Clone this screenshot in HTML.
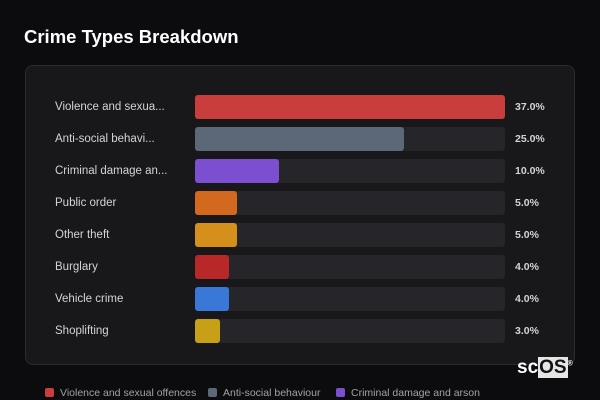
<!DOCTYPE html>
<html><head><meta charset="utf-8"><style>
body{margin:0;width:600px;height:400px;background:#0c0c0f;font-family:"Liberation Sans","DejaVu Sans",sans-serif;overflow:hidden;position:relative}
#title{position:absolute;left:24px;top:26px;color:#fff;font-size:18.5px;font-weight:bold}
#card{position:absolute;left:25px;top:65px;width:550px;height:300px;background:#18181b;border:1px solid #2a2a2f;border-radius:8px;box-sizing:border-box}
.lbl{position:absolute;left:55px;color:#d4d4d8;font-size:11.5px;line-height:14px}
.track{position:absolute;left:195px;width:310px;height:24px;background:#26262a;border-radius:3px}
.bar{position:absolute;left:195px;height:24px;border-radius:3px}
.val{position:absolute;left:515px;color:#d4d4d8;font-size:10.5px;font-weight:bold;line-height:14px}
.leg{position:absolute;top:387px;font-size:10.5px;color:#a1a1aa;line-height:12px;white-space:nowrap}
.leg i{display:inline-block;width:9px;height:9px;border-radius:2px;margin-right:6px;vertical-align:-1px}
#logo{position:absolute;left:517px;top:357px;color:#fff;font-size:19px;font-weight:bold}
</style></head><body>
<div id="title">Crime Types Breakdown</div>
<div id="card"></div>
<div id="chart"></div>
<div id="logo">sc<span style="background:#e5e5e5;color:#111;padding:0 1px">OS</span><sup style="font-size:7px">®</sup></div>
<script>
const categories=["Violence and sexual offences","Anti-social behaviour","Criminal damage and arson","Public order","Other theft","Burglary","Vehicle crime","Shoplifting"];
const shortLabels=["Violence and sexua...","Anti-social behavi...","Criminal damage an...","Public order","Other theft","Burglary","Vehicle crime","Shoplifting"];
const values=[37,25,10,5,5,4,4,3];
const colors=["#c93d3d","#5c6878","#7b4fd0","#d2691e","#d4901a","#b82828","#3a78d8","#c8a018"];
const maxV=Math.max(...values);
const x=v=>v/maxV*310;
const y=i=>95+i*32;
const c=document.getElementById('chart');
values.forEach((v,i)=>{
 const l=document.createElement('div');l.className='lbl';l.style.top=(y(i)+5)+'px';l.textContent=shortLabels[i];
 
 c.appendChild(l);
 const t=document.createElement('div');t.className='track';t.style.top=y(i)+'px';
 
 c.appendChild(t);
 const b=document.createElement('div');b.className='bar';b.style.top=y(i)+'px';b.style.width=x(v)+'px';b.style.background=colors[i];
 
 c.appendChild(b);
 const vl=document.createElement('div');vl.className='val';vl.style.top=(y(i)+5)+'px';vl.textContent=v.toFixed(1)+'%';
 
 c.appendChild(vl);
});
const legX=[45,208,336];
[0,1,2].forEach(i=>{
 const d=document.createElement('div');d.className='leg';d.style.left=legX[i]+'px';
 d.innerHTML='<i style="background:'+colors[i]+'"></i>'+categories[i];
 
 c.appendChild(d);
});
</script>
</body></html>
